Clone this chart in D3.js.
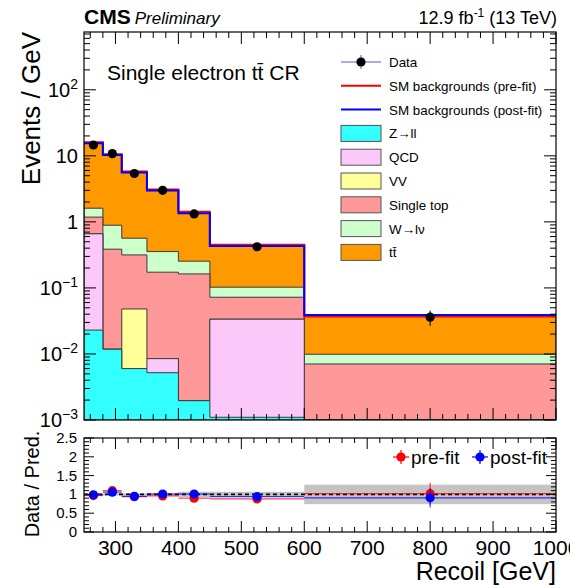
<!DOCTYPE html>
<html>
<head>
<meta charset="utf-8">
<script src="https://cdn.jsdelivr.net/npm/d3@7"></script>
<style>
  body { margin: 0; background: #fff; }
  svg { font-family: "Liberation Sans", Arial, Helvetica, sans-serif; }
</style>
</head>
<body>
<div id="chart"></div>
<script>
// bins in recoil [GeV]
const binEdges = [250, 280, 310, 350, 400, 450, 600, 1000];
const binCenters = [265, 295, 330, 375, 425, 525, 800];

// post-fit stack, events / GeV (bottom -> top)
const zll      = [0.023, 0.0118, 0.006, 0.0052, 0.00196, 0.0011, 0.0003];
const qcd      = [0.637, 0, 0, 0.0033, 0, 0.0325, 0.0002];
const vv       = [0.001, 0, 0.042, 0, 0, 0, 0];
const singleTop = [0.52, 0.374, 0.268, 0.1645, 0.161, 0.0387, 0.00655];
const wlv      = [0.43, 0.504, 0.25, 0.182, 0.091, 0.0303, 0.00285];
const ttbar    = [13.9, 9.41, 5.01, 2.625, 1.096, 0.330, 0.0291];

const preFitTotal = [16.0, 10.6, 5.8, 3.1, 1.42, 0.45, 0.037];

const dataValues = [14.6, 10.8, 5.4, 3.0, 1.32, 0.42, 0.036];
const dataErrors = [0.7, 0.6, 0.37, 0.25, 0.16, 0.05, 0.0095];

// ratio panel
const preFitRatio   = [0.97, 1.10, 0.94, 0.96, 0.90, 0.88, 1.02];
const preFitRatioErr = [0.04, 0.05, 0.05, 0.07, 0.10, 0.11, 0.29];
const postFitRatio  = [0.99, 1.06, 0.95, 1.01, 1.01, 0.94, 0.91];
const postFitRatioErr = [0.04, 0.05, 0.05, 0.07, 0.10, 0.11, 0.26];
const bandUnc = [0.03, 0.03, 0.03, 0.04, 0.07, 0.07, 0.26];

const processNames = ["Z\u2192ll", "QCD", "VV", "Single top", "W\u2192l\u03BD", "tt\u0304"];
const processColors = ["#33ffff", "#fbc9f9", "#ffff99", "#ff9999", "#ccffcc", "#ff9900"];
const processValues = [zll, qcd, vv, singleTop, wlv, ttbar];

const xTickValues = [300, 400, 500, 600, 700, 800, 900, 1000];
const yDecades = [1e-3, 1e-2, 1e-1, 1, 10, 100];
const ratioTickValues = [0, 0.5, 1, 1.5, 2, 2.5];

const width = 570, height = 585;
const left = 84, right = 556;
const mainTop = 32, mainBottom = 420;
const ratioTop = 438, ratioBottom = 532;

const svg = d3.select('#chart').append('svg')
    .attr('width', width)
    .attr('height', height);

const x = d3.scaleLinear().domain([250, 1000]).range([left, right]);
const y = d3.scaleLog().domain([1e-3, 750]).range([mainBottom, mainTop]).clamp(true);
const yr = d3.scaleLinear().domain([0, 2.5]).range([ratioBottom, ratioTop]);

svg.append('defs').append('clipPath').attr('id', 'mainClip')
    .append('rect')
    .attr('x', left).attr('y', mainTop)
    .attr('width', right - left).attr('height', mainBottom - mainTop);

// ---- main panel: stacked histogram ----
const rows = binCenters.map((c, i) => {
    const r = { bin: i };
    processNames.forEach((n, k) => r[n] = processValues[k][i]);
    return r;
});
const series = d3.stack().keys(processNames)(rows);

const stepPoints = vals => {
    const pts = vals.map((v, i) => [binEdges[i], v]);
    pts.push([binEdges[binEdges.length - 1], vals[vals.length - 1]]);
    return pts;
};

const area = d3.area()
    .curve(d3.curveStepAfter)
    .x(d => x(d[0]))
    .y0(mainBottom)
    .y1(d => y(Math.max(d[1], 1e-5)));

const step = d3.line()
    .curve(d3.curveStepAfter)
    .x(d => x(d[0]))
    .y(d => y(Math.max(d[1], 1e-5)));

const plot = svg.append('g').attr('clip-path', 'url(#mainClip)');

// ROOT-like: draw cumulative histos from the top layer down
series.slice().reverse().forEach(s => {
    const k = processNames.indexOf(s.key);
    plot.append('path')
        .attr('d', area(stepPoints(s.map(d => d[1]))))
        .attr('fill', processColors[k])
        .attr('stroke', '#3a3a3a')
        .attr('stroke-width', 1);
});

const postFitTotal = series[series.length - 1].map(d => d[1]);

plot.append('path')
    .attr('d', step(stepPoints(preFitTotal)))
    .attr('fill', 'none')
    .attr('stroke', '#ff0000')
    .attr('stroke-width', 2);

plot.append('path')
    .attr('d', step(stepPoints(postFitTotal)))
    .attr('fill', 'none')
    .attr('stroke', '#0000ff')
    .attr('stroke-width', 2);

// data
plot.selectAll('.derr').data(dataValues).enter().append('line')
    .attr('x1', (d, i) => x(binCenters[i]))
    .attr('x2', (d, i) => x(binCenters[i]))
    .attr('y1', (d, i) => y(d + dataErrors[i]))
    .attr('y2', (d, i) => y(d - dataErrors[i]))
    .attr('stroke', '#000')
    .attr('stroke-width', 1);

plot.selectAll('.dpt').data(dataValues).enter().append('circle')
    .attr('cx', (d, i) => x(binCenters[i]))
    .attr('cy', d => y(d))
    .attr('r', 4.6)
    .attr('fill', '#000');

// ---- main axes ----
const xMinor = d3.range(260, 1000, 20).filter(v => v % 100 !== 0);
const yMinor = [];
yDecades.forEach(dec => d3.range(2, 10).forEach(m => { if (dec * m < 750) yMinor.push(dec * m); }));

function ticksX(g, scale, vals, len, yPos, dir) {
    g.selectAll(null).data(vals).enter().append('line')
        .attr('x1', d => scale(d)).attr('x2', d => scale(d))
        .attr('y1', yPos).attr('y2', yPos + dir * len)
        .attr('stroke', '#000').attr('stroke-width', 1);
}
function ticksY(g, scale, vals, len, xPos, dir) {
    g.selectAll(null).data(vals).enter().append('line')
        .attr('y1', d => scale(d)).attr('y2', d => scale(d))
        .attr('x1', xPos).attr('x2', xPos + dir * len)
        .attr('stroke', '#000').attr('stroke-width', 1);
}

const axes = svg.append('g');
ticksX(axes, x, xTickValues, 12, mainBottom, -1);
ticksX(axes, x, xMinor, 6, mainBottom, -1);
ticksX(axes, x, xTickValues, 12, mainTop, 1);
ticksX(axes, x, xMinor, 6, mainTop, 1);
ticksY(axes, y, yDecades, 12, left, 1);
ticksY(axes, y, yMinor, 6, left, 1);
ticksY(axes, y, yDecades, 12, right, -1);
ticksY(axes, y, yMinor, 6, right, -1);

axes.append('rect')
    .attr('x', left).attr('y', mainTop)
    .attr('width', right - left).attr('height', mainBottom - mainTop)
    .attr('fill', 'none').attr('stroke', '#000').attr('stroke-width', 1.2);

// y tick labels with exponents
const expo = { 1e-3: '\u22123', 1e-2: '\u22122', 1e-1: '\u22121', 100: '2' };
yDecades.forEach(v => {
    const t = axes.append('text')
        .attr('x', 78)
        .attr('y', y(v) + 7)
        .attr('text-anchor', 'end')
        .attr('font-size', 20);
    if (v === 1) t.text('1');
    else if (v === 10) t.text('10');
    else {
        t.append('tspan').text('10');
        t.append('tspan').attr('dy', -8).attr('font-size', 14).text(expo[v]);
    }
});

svg.append('text')
    .attr('transform', 'translate(40,32) rotate(-90)')
    .attr('text-anchor', 'end')
    .attr('font-size', 26)
    .text('Events / GeV');

// header
const head = svg.append('text').attr('x', left).attr('y', 24);
head.append('tspan').attr('font-weight', 'bold').attr('font-size', 21).text('CMS');
head.append('tspan').attr('font-style', 'italic').attr('font-size', 17).attr('dx', 4).text('Preliminary');

const lumi = svg.append('text').attr('x', 557).attr('y', 24)
    .attr('text-anchor', 'end').attr('font-size', 18);
lumi.append('tspan').text('12.9 fb');
lumi.append('tspan').attr('dy', -7).attr('font-size', 12).text('-1');
lumi.append('tspan').attr('dy', 7).text(' (13 TeV)');

svg.append('text')
    .attr('x', 107).attr('y', 80)
    .attr('font-size', 21)
    .text('Single electron tt\u0304 CR');

// legend
const legend = svg.append('g').attr('font-size', 13.4);
const legX0 = 341, legX1 = 381, legText = 389;
const rowY = i => 62 + i * 23.8;

legend.append('line').attr('x1', legX0).attr('x2', legX1).attr('y1', rowY(0)).attr('y2', rowY(0))
    .attr('stroke', '#8f8fe8').attr('stroke-width', 1.5);
legend.append('line').attr('x1', 361).attr('x2', 361).attr('y1', rowY(0) - 7).attr('y2', rowY(0) + 7)
    .attr('stroke', '#8f8fe8').attr('stroke-width', 1.5);
legend.append('circle').attr('cx', 361).attr('cy', rowY(0)).attr('r', 4.6).attr('fill', '#000');
legend.append('line').attr('x1', legX0).attr('x2', legX1).attr('y1', rowY(1)).attr('y2', rowY(1))
    .attr('stroke', '#ff0000').attr('stroke-width', 2);
legend.append('line').attr('x1', legX0).attr('x2', legX1).attr('y1', rowY(2)).attr('y2', rowY(2))
    .attr('stroke', '#0000ff').attr('stroke-width', 2);

const legLabels = ['Data', 'SM backgrounds (pre-fit)', 'SM backgrounds (post-fit)'].concat(processNames);
legLabels.forEach((l, i) => {
    legend.append('text').attr('x', legText).attr('y', rowY(i) + 5).text(l);
});
processNames.forEach((n, k) => {
    legend.append('rect')
        .attr('x', legX0).attr('y', rowY(k + 3) - 8)
        .attr('width', legX1 - legX0).attr('height', 16)
        .attr('fill', processColors[k])
        .attr('stroke', '#555').attr('stroke-width', 1);
});

// ---- ratio panel ----
const ratio = svg.append('g');

ratio.selectAll('.band').data(bandUnc).enter().append('rect')
    .attr('x', (d, i) => x(binEdges[i]))
    .attr('width', (d, i) => x(binEdges[i + 1]) - x(binEdges[i]))
    .attr('y', d => yr(1 + d))
    .attr('height', d => yr(1 - d) - yr(1 + d))
    .attr('fill', '#c4c4c4');

ratio.append('line')
    .attr('x1', left).attr('x2', right)
    .attr('y1', yr(1)).attr('y2', yr(1))
    .attr('stroke', '#000').attr('stroke-width', 1.6)
    .attr('stroke-dasharray', '4,3');

function ratioPoints(vals, errs, color) {
    const g = ratio.append('g');
    g.selectAll(null).data(vals).enter().append('line')
        .attr('x1', (d, i) => x(binEdges[i]))
        .attr('x2', (d, i) => x(binEdges[i + 1]))
        .attr('y1', d => yr(d)).attr('y2', d => yr(d))
        .attr('stroke', color).attr('stroke-width', 1.2).attr('stroke-opacity', 0.75);
    g.selectAll(null).data(vals).enter().append('line')
        .attr('x1', (d, i) => x(binCenters[i]))
        .attr('x2', (d, i) => x(binCenters[i]))
        .attr('y1', (d, i) => yr(d + errs[i]))
        .attr('y2', (d, i) => yr(d - errs[i]))
        .attr('stroke', color).attr('stroke-width', 1.2).attr('stroke-opacity', 0.75);
    g.selectAll(null).data(vals).enter().append('circle')
        .attr('cx', (d, i) => x(binCenters[i]))
        .attr('cy', d => yr(d))
        .attr('r', 4.6)
        .attr('fill', color);
}
ratioPoints(preFitRatio, preFitRatioErr, '#ff0000');
ratioPoints(postFitRatio, postFitRatioErr, '#0000ff');

const rMinor = d3.range(0.1, 2.5, 0.1).filter(v => Math.abs(v * 2 - Math.round(v * 2)) > 1e-6);
ticksX(ratio, x, xTickValues, 11, ratioBottom, -1);
ticksX(ratio, x, xMinor, 5, ratioBottom, -1);
ticksX(ratio, x, xTickValues, 11, ratioTop, 1);
ticksX(ratio, x, xMinor, 5, ratioTop, 1);
ticksY(ratio, yr, ratioTickValues, 10, left, 1);
ticksY(ratio, yr, rMinor, 5, left, 1);
ticksY(ratio, yr, ratioTickValues, 10, right, -1);
ticksY(ratio, yr, rMinor, 5, right, -1);

ratio.append('rect')
    .attr('x', left).attr('y', ratioTop)
    .attr('width', right - left).attr('height', ratioBottom - ratioTop)
    .attr('fill', 'none').attr('stroke', '#000').attr('stroke-width', 1.2);

ratio.selectAll('.ry').data(ratioTickValues).enter().append('text')
    .attr('x', 77).attr('y', d => yr(d) + 5)
    .attr('text-anchor', 'end').attr('font-size', 15)
    .text(d => d);

ratio.selectAll('.rx').data(xTickValues).enter().append('text')
    .attr('x', d => x(d)).attr('y', 555)
    .attr('text-anchor', 'middle').attr('font-size', 21)
    .text(d => d);

svg.append('text')
    .attr('transform', 'translate(39,484) rotate(-90)')
    .attr('text-anchor', 'middle')
    .attr('font-size', 20)
    .text('Data / Pred.');

svg.append('text')
    .attr('x', 556).attr('y', 580)
    .attr('text-anchor', 'end')
    .attr('font-size', 25)
    .text('Recoil [GeV]');

// ratio legend
const rleg = svg.append('g').attr('font-size', 19);
[['pre-fit', '#ff0000', 401], ['post-fit', '#0000ff', 480]].forEach(([l, c, cx]) => {
    rleg.append('line').attr('x1', cx - 8).attr('x2', cx + 8).attr('y1', 457).attr('y2', 457)
        .attr('stroke', c).attr('stroke-width', 1.2);
    rleg.append('line').attr('x1', cx).attr('x2', cx).attr('y1', 450).attr('y2', 464)
        .attr('stroke', c).attr('stroke-width', 1.2);
    rleg.append('circle').attr('cx', cx).attr('cy', 457).attr('r', 4.6).attr('fill', c);
    rleg.append('text').attr('x', cx + 10).attr('y', 464).text(l);
});
</script>
</body>
</html>
